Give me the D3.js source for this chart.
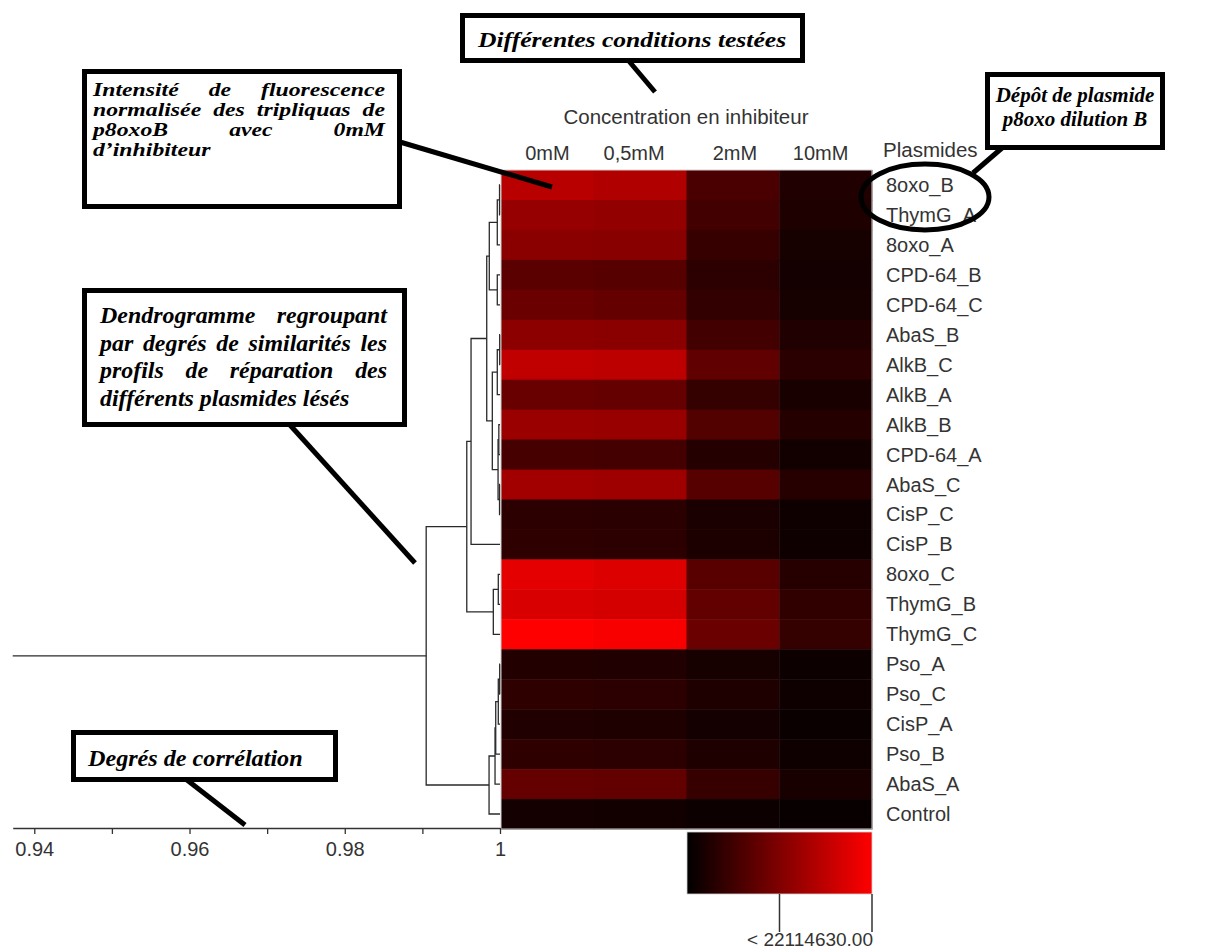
<!DOCTYPE html>
<html>
<head>
<meta charset="utf-8">
<script src="https://cdn.jsdelivr.net/npm/d3@7"></script>
<style>
  html, body { margin: 0; padding: 0; background: #fff; }
  svg { display: block; }
</style>
</head>
<body>
<svg id="chart" width="1208" height="951"></svg>
<script>
// ---------------- DATA ----------------
const columns = ["0mM", "0,5mM", "2mM", "10mM"];
const plasmids = ["8oxo_B","ThymG_A","8oxo_A","CPD-64_B","CPD-64_C","AbaS_B","AlkB_C","AlkB_A","AlkB_B","CPD-64_A","AbaS_C","CisP_C","CisP_B","8oxo_C","ThymG_B","ThymG_C","Pso_A","Pso_C","CisP_A","Pso_B","AbaS_A","Control"];
// normalised fluorescence intensity (x 10^6), per concentration
const v0mM   = [15.95,13.0,11.97,7.8,9.19,12.14,16.65,9.02,13.35,6.07,14.05,3.82,3.99,19.77,18.73,22.11,2.95,3.99,2.77,3.99,8.67,1.73];
const v05mM  = [15.26,12.66,11.79,7.46,8.67,11.97,16.3,8.67,13.18,5.9,13.7,3.64,3.82,19.08,18.38,21.5,2.77,3.82,2.6,3.82,8.5,1.56];
const v2mM   = [6.42,5.72,4.68,3.82,4.34,5.72,8.32,4.51,7.11,3.12,7.46,2.25,2.43,7.63,8.5,9.19,1.91,2.6,1.73,2.6,4.68,1.04];
const v10mM  = [2.77,2.6,1.91,1.73,1.91,2.77,3.64,2.08,3.12,1.56,3.3,1.21,1.21,3.3,4.16,4.51,1.04,1.21,0.87,1.21,2.08,0.69];
const colorMax = 22.11463; // x 10^6
const legendLabel = "< 22114630.00";
// dendrogram linkage: [left, right, correlation]; leaves 0..21, nodes 22+
const linkage = [
  [0, 1, 0.99994],   // 22
  [22, 2, 0.99965],  // 23
  [3, 4, 0.99965],   // 24
  [23, 24, 0.99862], // 25
  [5, 6, 0.99996],   // 26
  [26, 7, 0.99965],  // 27
  [8, 9, 0.99985],   // 28
  [10, 11, 0.99994], // 29
  [28, 29, 0.99975], // 30
  [27, 30, 0.99901], // 31
  [25, 31, 0.99829], // 32
  [32, 12, 0.99627], // 33
  [13, 14, 0.99978], // 34
  [34, 15, 0.99914], // 35
  [33, 35, 0.99572], // 36
  [16, 17, 0.99996], // 37
  [37, 18, 0.99978], // 38
  [38, 19, 0.99945], // 39
  [39, 20, 0.99936], // 40
  [40, 21, 0.99859], // 41
  [36, 41, 0.99049]  // 42
];
const corrTicks = [0.94, 0.95, 0.96, 0.97, 0.98, 0.99, 1];
const corrTickLabels = ["0.94", "", "0.96", "", "0.98", "", "1"];
const corrMin = 0.93722;

// ---------------- DRAW ----------------
const svg = d3.select("#chart");
const sans = "'Liberation Sans', Arial, sans-serif";
const serif = "'Liberation Serif', 'Times New Roman', serif";
const txt = "#333";

const values = plasmids.map((p, i) => [v0mM[i], v05mM[i], v2mM[i], v10mM[i]]);

const x = d3.scaleBand().domain(columns).range([501, 872]);
const y = d3.scaleBand().domain(plasmids).range([170, 829]);
const color = d3.scaleLinear().domain([0, colorMax]).range(["#000000", "#ff0000"]);

// heatmap cells
const cells = [];
plasmids.forEach((p, i) => columns.forEach((c, j) => cells.push({p, c, v: values[i][j]})));
svg.append("g").selectAll("rect").data(cells).join("rect")
  .attr("x", d => x(d.c)).attr("y", d => y(d.p))
  .attr("width", x.bandwidth() + 0.5).attr("height", y.bandwidth() + 0.5)
  .attr("fill", d => color(d.v));
svg.append("rect").attr("x", 501).attr("y", 170).attr("width", 371).attr("height", 659)
  .attr("fill", "none").attr("stroke", "#cfcfcf").attr("stroke-width", 1);

// column labels
const colLabelShift = [0, -6, 2, -5];
svg.append("g").selectAll("text").data(columns).join("text")
  .attr("x", (d, i) => x(d) + x.bandwidth() / 2 + colLabelShift[i]).attr("y", 160)
  .attr("text-anchor", "middle").attr("font-family", sans).attr("font-size", 20).attr("fill", txt)
  .text(d => d);
svg.append("text").attr("x", 686).attr("y", 124).attr("text-anchor", "middle")
  .attr("font-family", sans).attr("font-size", 20.5).attr("fill", txt).text("Concentration en inhibiteur");
svg.append("text").attr("x", 883).attr("y", 157)
  .attr("font-family", sans).attr("font-size", 20.5).attr("fill", txt).text("Plasmides");

// row labels
svg.append("g").selectAll("text").data(plasmids).join("text")
  .attr("x", 886).attr("y", d => y(d) + y.bandwidth() / 2 + 7)
  .attr("font-family", sans).attr("font-size", 20).attr("fill", txt)
  .text(d => d);

// dendrogram
const cx = d3.scaleLinear().domain([corrMin, 1]).range([12.7, 500]);
const nodes = plasmids.map(p => ({x: cx(1), y: y(p) + y.bandwidth() / 2}));
const dg = svg.append("g").attr("fill", "none").attr("stroke", "#2a2a2a").attr("stroke-width", 1.3);
linkage.forEach(([a, b, h]) => {
  const A = nodes[a], B = nodes[b];
  const px = cx(h);
  dg.append("path").attr("d", `M${A.x},${A.y}H${px}V${B.y}H${B.x}`);
  nodes.push({x: px, y: (A.y + B.y) / 2});
});
const root = nodes[nodes.length - 1];
dg.append("path").attr("d", `M${root.x},${root.y}H${cx(corrMin)}`);

// correlation axis
const axis = d3.axisBottom(cx).tickValues(corrTicks).tickSize(6).tickSizeOuter(0)
  .tickFormat((d, i) => corrTickLabels[i]);
const ag = svg.append("g").attr("transform", "translate(0,828)").call(axis);
ag.select(".domain").attr("stroke", "#333").attr("stroke-width", 1.3);
ag.selectAll(".tick line").attr("stroke", "#333").attr("stroke-width", 1.3);
ag.selectAll(".tick text").attr("font-family", sans).attr("font-size", 20).attr("fill", txt).attr("dy", "0.95em");

// colour legend
const defs = svg.append("defs");
const grad = defs.append("linearGradient").attr("id", "lg");
grad.append("stop").attr("offset", "0%").attr("stop-color", color(0));
grad.append("stop").attr("offset", "100%").attr("stop-color", color(colorMax));
const lx = d3.scaleLinear().domain([0, colorMax]).range([687, 872]);
svg.append("rect").attr("x", lx(0)).attr("y", 832).attr("width", lx(colorMax) - lx(0)).attr("height", 62)
  .attr("fill", "url(#lg)").attr("stroke", "#d0d0d0").attr("stroke-width", 0.8);
svg.append("g").selectAll("line").data([colorMax / 2, colorMax]).join("line")
  .attr("x1", d => lx(d)).attr("x2", d => lx(d)).attr("y1", 894).attr("y2", 932)
  .attr("stroke", "#333").attr("stroke-width", 1.5);
svg.append("text").attr("x", 873).attr("y", 946).attr("text-anchor", "end")
  .attr("font-family", sans).attr("font-size", 19).attr("fill", txt).text(legendLabel);

// ---------------- ANNOTATIONS ----------------
const ann = svg.append("g");
function box(x0, y0, x1, y1) {
  ann.append("rect").attr("x", x0 + 2.5).attr("y", y0 + 2.5).attr("width", x1 - x0 - 5).attr("height", y1 - y0 - 5)
    .attr("fill", "#fff").attr("stroke", "#000").attr("stroke-width", 5);
}
function pointer(x0, y0, x1, y1) {
  ann.append("line").attr("x1", x0).attr("y1", y0).attr("x2", x1).attr("y2", y1)
    .attr("stroke", "#000").attr("stroke-width", 5);
}
function serifText(str, xx, yy, size, anchor, sx) {
  const s = sx || 1;
  return ann.append("text").attr("transform", `translate(${xx},${yy}) scale(${s},1)`)
    .attr("font-family", serif)
    .attr("font-weight", "bold").attr("font-style", "italic").attr("font-size", size)
    .attr("fill", "#000").attr("text-anchor", anchor || "start").text(str);
}
function justified(lines, x0, x1, y0, lh, size, sx) {
  const s = sx || 1;
  lines.forEach((line, li) => {
    const yy = y0 + li * lh;
    if (li === lines.length - 1) { serifText(line, x0, yy, size, "start", s); return; }
    const words = line.split(" ");
    const els = words.map(w => serifText(w, 0, yy, size, "start", s));
    const widths = els.map(e => e.node().getComputedTextLength() * s);
    const total = d3.sum(widths);
    const gap = words.length > 1 ? (x1 - x0 - total) / (words.length - 1) : 0;
    let cur = x0;
    els.forEach((e, k) => { e.attr("transform", `translate(${cur},${yy}) scale(${s},1)`); cur += widths[k] + gap; });
  });
}

// pointers first (under boxes)
pointer(628, 60, 655, 92);
pointer(400, 142, 552, 187);
pointer(973, 173, 1002, 148);
pointer(290, 425, 415, 563);
pointer(187, 780, 245, 825);

// ellipse
ann.append("ellipse").attr("cx", 925).attr("cy", 197).attr("rx", 64).attr("ry", 33)
  .attr("fill", "none").attr("stroke", "#000").attr("stroke-width", 5);

box(460, 13, 805, 63);
serifText("Différentes conditions testées", 478, 47, 21, "start", 1.22);

box(82, 69, 402, 209);
justified(["Intensité de fluorescence", "normalisée des tripliquas de", "p8oxoB avec 0mM", "d’inhibiteur"], 93, 385, 96, 20, 18, 1.32);

box(985, 72, 1165, 150);
serifText("Dépôt de plasmide", 1075, 102, 20, "middle", 1.05);
serifText("p8oxo dilution B", 1075, 126, 20, "middle", 1.05);

box(82, 288, 407, 427);
justified(["Dendrogramme regroupant", "par degrés de similarités les", "profils de réparation des", "différents plasmides lésés"], 100, 387, 323, 27.5, 23, 1.04);

box(71, 730, 338, 782);
serifText("Degrés de corrélation", 88, 766, 23, "start", 1.05);
</script>
</body>
</html>
